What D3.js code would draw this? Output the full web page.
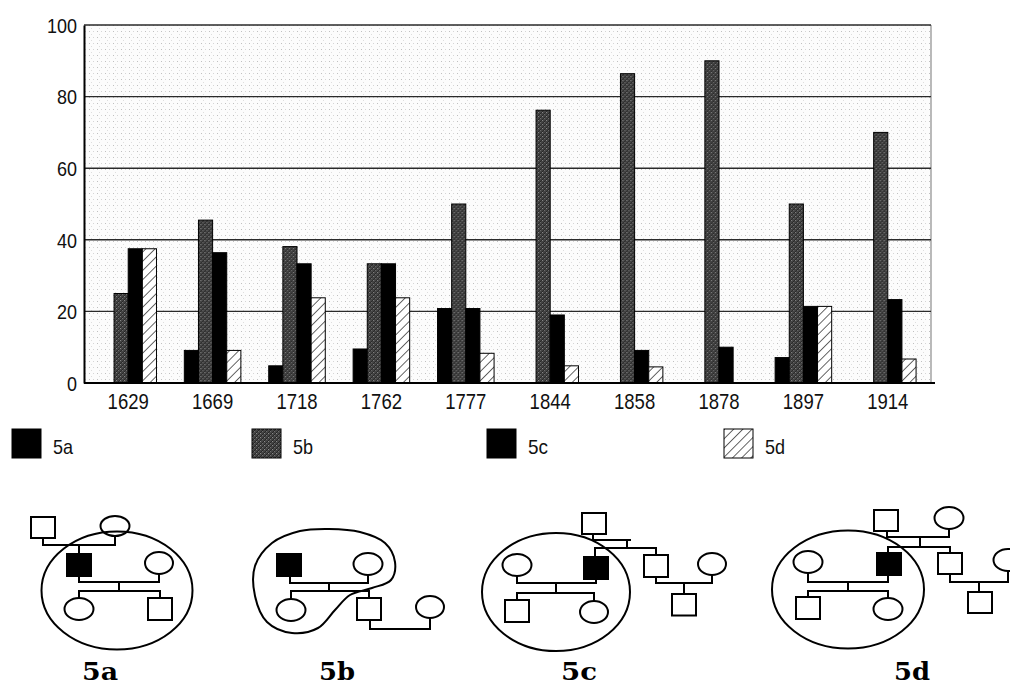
<!DOCTYPE html>
<html>
<head>
<meta charset="utf-8">
<script src="https://cdn.jsdelivr.net/npm/d3@7/dist/d3.min.js"></script>
<style>
  html, body { margin: 0; padding: 0; background: #fff; }
  svg { display: block; }
  .narrow { font-family: "Liberation Sans", Arial, sans-serif; }
</style>
</head>
<body>
<svg id="chart" width="1010" height="685"></svg>
<script>
// ---------------- data ----------------
const categories = ["1629", "1669", "1718", "1762", "1777", "1844", "1858", "1878", "1897", "1914"];
const seriesNames = ["5a", "5b", "5c", "5d"];
const s5a = [0, 9.1, 4.8, 9.5, 20.8, 0, 0, 0, 7.1, 0];
const s5b = [25.0, 45.5, 38.1, 33.3, 50.0, 76.2, 86.4, 90.0, 50.0, 70.0];
const s5c = [37.5, 36.4, 33.3, 33.3, 20.8, 19.0, 9.1, 10.0, 21.4, 23.3];
const s5d = [37.5, 9.1, 23.8, 23.8, 8.3, 4.8, 4.5, 0, 21.4, 6.7];
const yTicks = [0, 20, 40, 60, 80, 100];
const diagramLabels = ["5a", "5b", "5c", "5d"];

const seriesValues = [s5a, s5b, s5c, s5d];
const fills = ["#000", "url(#darkTex)", "#000", "url(#hatch)"];

// ---------------- setup ----------------
const svg = d3.select("#chart");
const defs = svg.append("defs");

// force narrow glyph width (per character) like the condensed original font
function narrowText(sel, perChar) {
  sel.each(function () {
    const t = d3.select(this);
    t.attr("textLength", t.text().length * perChar).attr("lengthAdjust", "spacingAndGlyphs");
  });
}

// dotted background texture
const bg = defs.append("pattern").attr("id", "dots").attr("patternUnits", "userSpaceOnUse")
  .attr("width", 8).attr("height", 6);
bg.append("rect").attr("width", 8).attr("height", 6).attr("fill", "#fcfcfc");
bg.append("rect").attr("x", 1).attr("y", 1).attr("width", 1).attr("height", 1).attr("fill", "#c0c0c0");
bg.append("rect").attr("x", 5).attr("y", 1).attr("width", 1).attr("height", 1).attr("fill", "#d6d6d6");
bg.append("rect").attr("x", 3).attr("y", 4).attr("width", 1).attr("height", 1).attr("fill", "#dedede");

// dark textured fill (5b)
const dk = defs.append("pattern").attr("id", "darkTex").attr("patternUnits", "userSpaceOnUse")
  .attr("width", 4).attr("height", 4);
dk.append("rect").attr("width", 4).attr("height", 4).attr("fill", "#444");
dk.append("path").attr("d", "M0,4 L4,0 M-1,1 L1,-1 M3,5 L5,3").attr("stroke", "#262626").attr("stroke-width", 1);
dk.append("rect").attr("x", 0).attr("y", 0).attr("width", 1).attr("height", 1).attr("fill", "#8a8a8a");
dk.append("rect").attr("x", 2).attr("y", 2).attr("width", 1).attr("height", 1).attr("fill", "#6e6e6e");

// hatch fill (5d)
const ht = defs.append("pattern").attr("id", "hatch").attr("patternUnits", "userSpaceOnUse")
  .attr("width", 6.5).attr("height", 6.5).attr("patternTransform", "rotate(45)");
ht.append("rect").attr("width", 6.5).attr("height", 6.5).attr("fill", "#fff");
ht.append("line").attr("x1", 0).attr("y1", 0).attr("x2", 0).attr("y2", 6.5)
  .attr("stroke", "#000").attr("stroke-width", 1.2);

// ---------------- scales ----------------
const plot = { left: 84, right: 931, top: 25, bottom: 383 };
const x0 = d3.scaleBand().domain(categories).range([86, 930]).paddingInner(0.33).paddingOuter(0.165);
const x1 = d3.scaleBand().domain(seriesNames).range([0, x0.bandwidth()]).padding(0);
const y = d3.scaleLinear().domain([0, 100]).range([plot.bottom, plot.top]);

// plot background
svg.append("rect").attr("x", plot.left).attr("y", plot.top)
  .attr("width", plot.right - plot.left).attr("height", plot.bottom - plot.top)
  .attr("fill", "url(#dots)");

// right border
svg.append("line").attr("x1", plot.right).attr("x2", plot.right)
  .attr("y1", plot.top).attr("y2", plot.bottom).attr("stroke", "#777").attr("stroke-width", 1);

// gridlines
svg.append("g").selectAll("line").data(yTicks.filter(d => d > 0)).join("line")
  .attr("x1", plot.left).attr("x2", plot.right)
  .attr("y1", d => y(d)).attr("y2", d => y(d))
  .attr("stroke", "#2a2a2a").attr("stroke-width", 1.4);

// y axis
const yAxis = svg.append("g").attr("transform", `translate(${plot.left},0)`)
  .call(d3.axisLeft(y).tickValues(yTicks).tickSize(0).tickPadding(7));
yAxis.select(".domain").attr("stroke", "#000").attr("stroke-width", 2);
yAxis.selectAll("text").attr("class", "narrow").attr("font-size", 20).attr("fill", "#111")
  .attr("dy", "0.36em").call(narrowText, 10);

// bars
const groups = svg.append("g").selectAll("g").data(categories).join("g")
  .attr("transform", d => `translate(${x0(d)},0)`);
groups.selectAll("rect")
  .data((c, i) => seriesNames.map((s, k) => ({ s, k, v: seriesValues[k][i] })).filter(d => d.v > 0))
  .join("rect")
  .attr("x", d => x1(d.s))
  .attr("y", d => y(d.v))
  .attr("width", x1.bandwidth())
  .attr("height", d => y(0) - y(d.v))
  .attr("fill", d => fills[d.k])
  .attr("stroke", "#000").attr("stroke-width", 1);

// x axis
const xAxis = svg.append("g").attr("transform", `translate(0,${plot.bottom})`)
  .call(d3.axisBottom(x0).tickSize(0).tickPadding(10));
xAxis.select(".domain").remove();
svg.append("line").attr("x1", plot.left).attr("x2", plot.right + 4)
  .attr("y1", plot.bottom).attr("y2", plot.bottom).attr("stroke", "#000").attr("stroke-width", 2.2);
xAxis.selectAll("text").attr("class", "narrow").attr("font-size", 22).attr("fill", "#111")
  .attr("dy", "0.72em").call(narrowText, 10.3);

// legend
const legendX = [12, 252, 487, 724];
const leg = svg.append("g").selectAll("g").data(seriesNames).join("g")
  .attr("transform", (d, i) => `translate(${legendX[i]},429)`);
leg.append("rect").attr("width", 29).attr("height", 29)
  .attr("fill", (d, i) => fills[i]).attr("stroke", "#000").attr("stroke-width", 1);
leg.append("text").attr("class", "narrow").attr("x", 41).attr("y", 25)
  .attr("font-size", 21).attr("fill", "#111").text(d => d).call(narrowText, 10);

// ---------------- pedigree diagrams ----------------
const sq = (x, yy, w, h, filled) => ({ t: "sq", x, y: yy, w, h, filled });
const el = (cx, cy, rx, ry) => ({ t: "el", cx, cy, rx, ry });
const pl = (...pts) => ({ t: "pl", pts });

const diagrams = [
  { label: diagramLabels[0], labelX: 100,
    encl: { t: "el", cx: 117, cy: 590.5, rx: 75.5, ry: 59 },
    shapes: [
      sq(31, 517, 24, 21, false), sq(67, 554, 24, 22, true), sq(148, 598, 24, 22, false),
      el(115, 526, 14.5, 10), el(159, 563, 14, 11), el(79, 609, 14.5, 11),
      pl([43, 538], [43, 545], [115, 545], [115, 536]),
      pl([79, 545], [79, 554]),
      pl([79, 576], [79, 582], [159, 582], [159, 574]),
      pl([119, 582], [119, 591]),
      pl([79, 598], [79, 591], [160, 591], [160, 598])
    ] },
  { label: diagramLabels[1], labelX: 337,
    blob: [[329, 529], [300, 531], [272, 543], [255, 566], [255, 596], [267, 622], [292, 633],
           [318, 628], [335, 610], [350, 595], [372, 588], [391, 580], [395, 562], [385, 543], [360, 532]],
    shapes: [
      sq(277, 554, 24, 22, true), el(368, 564, 14.5, 11),
      pl([290, 576], [290, 583], [368, 583], [368, 575]),
      pl([329, 583], [329, 591]),
      pl([291, 599], [291, 591], [369, 591], [369, 598]),
      el(291, 610, 14.5, 11), sq(357, 598, 24, 22, false),
      el(430, 607, 14, 11),
      pl([370, 620], [370, 629], [430, 629], [430, 618])
    ] },
  { label: diagramLabels[2], labelX: 579,
    encl: { t: "el", cx: 556, cy: 592, rx: 74, ry: 59 },
    shapes: [
      el(517, 565, 14.5, 11), sq(584, 557, 24, 22, true),
      pl([517, 576], [517, 583], [596, 583], [596, 579]),
      pl([556, 583], [556, 593]),
      pl([517, 600], [517, 593], [594, 593], [594, 601]),
      sq(505, 600, 24, 22, false), el(594, 612, 14, 11),
      sq(582, 513, 24, 21, false),
      pl([593, 534], [593, 540], [631, 540]),
      pl([627, 540], [627, 548]),
      pl([595, 557], [595, 548], [656, 548], [656, 555]),
      sq(644, 555, 24, 22, false),
      pl([656, 577], [656, 583], [712, 583], [712, 575]),
      el(712, 564, 14, 11),
      pl([684, 583], [684, 594]),
      sq(672, 594, 24, 21.5, false)
    ] },
  { label: diagramLabels[3], labelX: 912,
    encl: { t: "el", cx: 848, cy: 589.5, rx: 76, ry: 59 },
    shapes: [
      el(808, 562, 14.5, 11), sq(877, 553, 24, 22, true),
      pl([808, 573], [808, 582], [888, 582], [888, 575]),
      pl([848, 582], [848, 591]),
      pl([808, 597], [808, 591], [888, 591], [888, 598]),
      sq(796, 597, 24, 22, false), el(888, 609, 14.5, 11),
      sq(874, 510, 24, 21, false), el(949, 518, 14.5, 11),
      pl([887, 531], [887, 537], [949, 537], [949, 529]),
      pl([920, 537], [920, 547]),
      pl([888, 553], [888, 547], [950, 547], [950, 553]),
      sq(938, 553, 24, 21, false),
      pl([950, 574], [950, 582], [1008, 582], [1008, 571]),
      el(1008, 560, 14.5, 11),
      pl([979, 582], [979, 592]),
      sq(968, 592, 24, 21, false)
    ] }
];

const dg = svg.append("g").attr("stroke", "#000").attr("stroke-width", 2).attr("fill", "none");
const lineGen = d3.line();
diagrams.forEach(D => {
  const g = dg.append("g");
  D.shapes.filter(s => s.t === "pl").forEach(s => {
    g.append("path").attr("d", lineGen(s.pts)).attr("fill", "none");
  });
  D.shapes.filter(s => s.t === "sq").forEach(s => {
    g.append("rect").attr("x", s.x).attr("y", s.y).attr("width", s.w).attr("height", s.h)
      .attr("fill", s.filled ? "#000" : "#fff");
  });
  D.shapes.filter(s => s.t === "el").forEach(s => {
    g.append("ellipse").attr("cx", s.cx).attr("cy", s.cy).attr("rx", s.rx).attr("ry", s.ry)
      .attr("fill", "#fff");
  });
  if (D.encl) {
    g.append("ellipse").attr("cx", D.encl.cx).attr("cy", D.encl.cy)
      .attr("rx", D.encl.rx).attr("ry", D.encl.ry).attr("fill", "none");
  }
  if (D.blob) {
    g.append("path").attr("d", d3.line().curve(d3.curveCatmullRomClosed.alpha(0.5))(D.blob))
      .attr("fill", "none");
  }
  svg.append("text").attr("x", D.labelX).attr("y", 680).attr("text-anchor", "middle")
    .attr("font-family", "'DejaVu Serif', serif").attr("font-weight", "bold")
    .attr("font-size", 24).attr("textLength", 36).attr("lengthAdjust", "spacingAndGlyphs")
    .attr("fill", "#000").text(D.label);
});
</script>
</body>
</html>
